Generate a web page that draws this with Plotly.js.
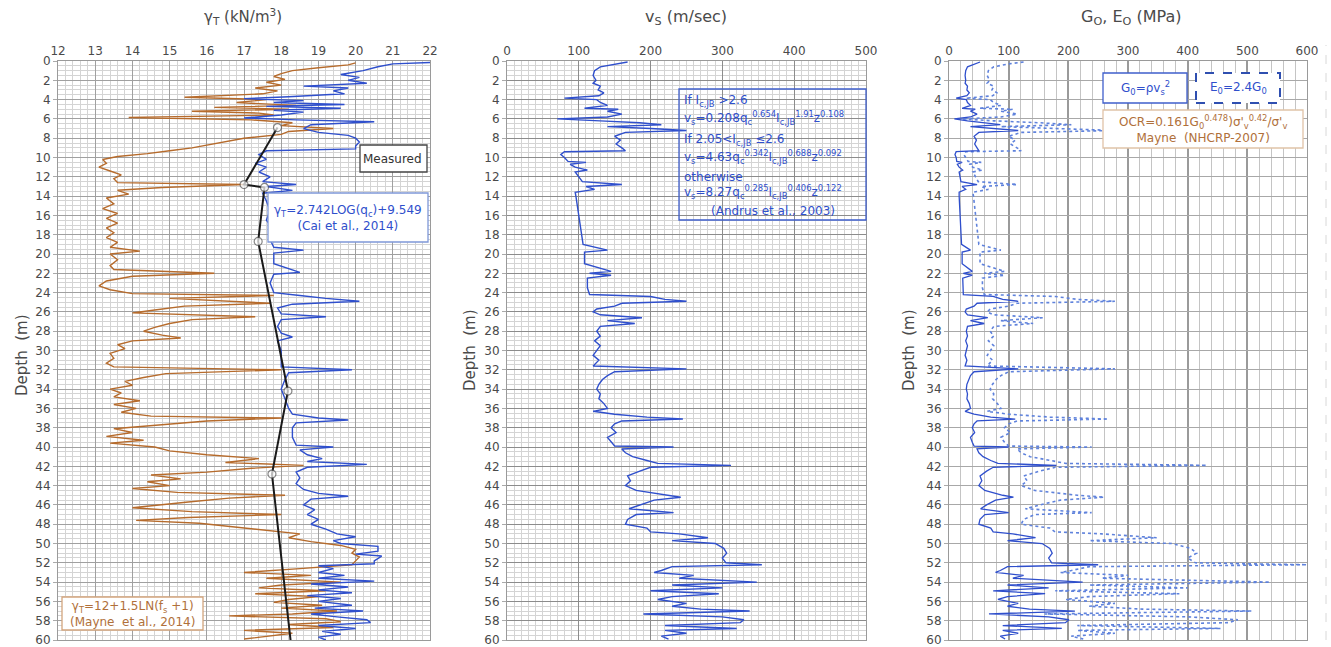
<!DOCTYPE html>
<html>
<head>
<meta charset="utf-8">
<script src="https://cdn.plot.ly/plotly-3.0.1.min.js"></script>
<style>html,body{margin:0;padding:0;background:#fff}#chart{width:1331px;height:647px}</style>
</head>
<body>
<div id="chart"></div>
<script>
// ---------- Panel 1: unit weight ----------
const depthM = [0.2,0.4,0.7,1.0,1.3,1.6,1.9,2.2,2.5,2.8,3.1,3.4,3.75,4.0,4.3,4.6,4.8,5.0,5.2,5.4,5.6,5.85,6.1,6.4,6.7,7.0,7.3,7.6,8.0,8.3,8.6,9.0,9.3,9.6,9.9,10.2,10.6,11.0,11.4,11.8,12.2,12.6,12.8,13.1,13.4,13.8,14.2,14.8,15.3,15.8,16.3,16.8,17.3,17.8,18.3,18.8,19.3,19.7,20.0,20.6,21.2,21.6,22.0,22.3,22.8,23.3,23.7,24.1,24.3,24.6,25.1,25.4,25.8,26.1,26.5,26.8,27.2,27.6,28.0,28.4,28.7,29.0,29.4,29.8,30.3,30.8,31.3,31.7,32.0,32.4,32.8,33.2,33.6,34.0,34.4,34.8,35.2,35.6,36.0,36.4,36.8,37.0,37.3,37.7,38.1,38.5,38.9,39.3,39.6,40.0,40.4,40.8,41.2,41.6,41.9,42.2,42.6,42.9,43.3,43.6,44.0,44.3,44.7,45.0,45.3,45.7,46.0,46.3,46.7,47.0,47.3,47.6,47.9,48.3,48.6,49.0,49.4,49.8,50.2,50.6,51.0,51.4,51.8,52.2,52.6,53.0,53.3,53.6,54.0,54.3,54.6,54.9,55.2,55.5,55.8,56.1,56.4,56.7,57.0,57.3,57.5,57.8,58.1,58.4,58.7,59.0,59.3,59.6,59.9];
const gammaMayne = [20.0,19.8,19.0,18.3,18.0,17.8,18.1,17.6,18.0,17.3,17.9,17.5,15.4,17.6,16.8,18.4,16.2,18.2,15.6,17.4,17.8,13.9,17.2,18.3,18.0,19.4,18.2,18.0,17.0,16.6,16.2,15.6,15.0,14.4,13.6,13.2,13.3,13.1,13.4,13.7,13.5,13.6,17.0,14.8,13.6,13.9,13.3,13.5,13.2,13.6,13.3,13.6,13.3,13.5,13.3,13.6,13.4,14.2,13.4,13.6,13.4,13.5,16.2,14.0,13.3,13.1,13.4,14.0,17.8,15.0,17.7,15.4,14.6,14.0,17.3,15.6,15.0,14.6,14.3,14.8,15.3,14.0,13.6,13.8,13.4,13.5,13.3,13.5,18.0,14.9,14.3,13.8,14.0,13.4,13.7,13.5,14.2,13.5,14.1,13.7,14.5,18.0,16.0,14.8,13.5,14.0,13.3,14.3,13.4,14.6,15.0,16.0,17.4,16.5,18.6,17.2,16.0,14.5,15.3,14.4,15.0,14.0,15.2,18.1,16.6,15.5,14.8,14.0,15.6,18.0,15.5,14.1,15.8,16.8,17.6,18.5,18.2,18.8,19.6,20.0,19.9,20.1,20.0,19.9,18.5,17.0,18.8,17.6,19.6,18.0,17.4,19.2,17.3,19.0,18.2,17.8,19.1,18.0,19.5,18.3,16.6,19.2,19.6,18.2,19.4,17.0,18.3,17.6,17.0];

const depthC = [0.15,0.3,0.6,1.0,1.4,1.7,2.0,2.3,2.6,2.8,3.1,3.4,3.7,3.9,4.1,4.3,4.5,4.7,4.9,5.1,5.3,5.6,5.9,6.1,6.3,6.6,7.0,7.4,7.7,8.0,8.4,8.8,9.1,9.3,9.7,10.2,10.6,11.0,11.5,12.0,12.5,12.8,13.0,13.4,13.7,14.5,15.5,16.5,17.5,18.5,19.3,19.6,19.9,21.0,21.9,22.1,23.0,24.0,24.3,24.6,24.9,25.2,25.6,26.2,26.5,26.8,27.5,28.2,28.6,29.0,30.0,31.0,31.7,32.0,32.3,33.0,34.0,35.0,36.0,36.6,37.0,37.2,37.5,38.0,39.0,39.8,40.0,40.3,40.8,41.2,41.5,41.8,42.1,42.6,43.2,43.8,44.4,44.8,45.1,45.4,46.0,46.5,47.0,47.5,48.0,48.5,49.0,49.3,49.7,50.0,50.3,50.8,51.1,51.3,51.8,52.1,52.3,52.6,53.0,53.3,53.6,53.9,54.2,54.5,54.8,55.1,55.4,55.7,56.0,56.4,56.7,57.0,57.3,57.6,57.9,58.2,58.5,58.8,59.1,59.4,59.7,60.0];
const gammaCai = [22.0,21.0,20.6,20.2,19.6,20.1,19.8,20.3,18.6,19.8,19.4,19.7,18.2,17.0,18.6,17.8,19.7,17.6,19.6,17.8,18.6,18.0,17.0,18.4,20.5,18.8,18.6,19.0,19.8,20.0,20.1,20.0,20.0,17.6,17.4,17.6,17.3,17.6,17.4,17.7,17.5,18.4,17.6,18.3,17.5,17.6,17.7,17.6,17.8,17.7,17.8,18.6,17.8,17.8,18.5,17.8,17.7,17.8,18.5,19.2,20.1,18.3,17.9,18.0,19.2,18.0,17.9,18.0,18.3,17.9,18.0,18.0,18.0,19.9,18.2,18.1,18.0,18.1,18.2,18.3,19.0,19.8,18.4,18.3,18.3,18.4,19.4,18.5,18.7,19.1,18.7,20.3,18.7,18.4,18.5,18.4,18.6,19.0,19.8,18.8,18.6,18.9,18.7,19.0,18.8,19.2,19.5,20.0,19.4,19.6,20.6,20.6,20.0,20.7,20.5,20.5,19.0,19.4,19.0,19.7,19.0,20.5,18.8,19.8,19.0,19.9,18.7,19.6,19.0,19.9,18.9,20.2,18.8,19.5,20.3,20.4,19.0,20.0,19.1,19.6,19.0,19.2];

const depthMeasured = [6.9,12.8,13.1,18.7,34.2,42.8,60.0];
const gammaMeasured = [17.9,17.0,17.55,17.38,18.18,17.75,18.25];
const measuredMarkerSize = [8,8,8,8,8,8,0];

// ---------- Panels 2 and 3: shear wave velocity and moduli ----------
const depthV = [0.1,0.3,0.6,1.0,1.5,2.0,2.3,2.6,3.0,3.3,3.6,3.85,4.0,4.3,4.6,4.9,5.0,5.2,5.5,5.8,6.0,6.2,6.4,6.6,6.8,7.0,7.2,7.4,7.8,8.2,8.6,9.0,9.3,9.4,9.7,10.0,10.4,10.5,10.7,11.0,11.3,11.5,12.0,12.5,12.8,13.0,13.3,13.6,14.0,15.0,16.0,17.0,18.0,19.0,19.6,19.8,21.0,21.8,22.0,22.2,22.5,23.5,24.2,24.4,24.7,24.9,25.1,25.4,25.7,26.0,26.3,26.6,26.9,27.2,27.5,28.0,28.5,29.0,29.5,30.0,30.5,31.0,31.6,31.9,32.2,32.6,33.0,33.5,34.0,34.5,35.0,35.5,36.0,36.3,36.6,36.9,37.1,37.3,37.6,38.0,38.5,39.0,39.5,39.9,40.0,40.2,40.6,41.0,41.4,41.7,41.9,42.1,42.5,43.0,43.5,44.0,44.5,45.0,45.2,45.5,46.0,46.4,46.8,47.0,47.5,48.0,48.4,48.8,49.0,49.4,49.7,50.0,50.5,51.0,51.5,52.0,52.2,52.4,52.8,53.0,53.3,53.6,54.0,54.3,54.6,54.9,55.2,55.5,55.8,56.2,56.5,56.8,57.0,57.3,57.6,57.9,58.2,58.5,58.8,59.0,59.3,59.6,59.9];
const vs = [168,150,130,122,120,124,120,130,127,135,128,80,125,130,140,108,155,140,160,140,70,130,185,215,140,200,250,165,150,158,152,160,165,80,75,80,85,110,88,95,112,95,100,105,160,110,122,95,96,98,100,102,104,106,140,108,108,145,115,145,112,112,115,200,220,250,160,150,125,120,130,188,140,178,130,125,130,122,130,125,120,128,120,250,150,140,133,128,125,130,128,135,140,120,150,195,245,160,150,145,152,140,145,150,232,160,165,175,195,210,312,200,185,168,172,165,180,220,242,205,185,170,232,180,168,165,195,200,240,280,230,290,302,306,300,305,355,230,215,205,260,240,348,230,300,200,295,230,210,250,230,270,338,190,300,330,325,220,320,220,250,215,225];
const G0 = [52,42,31,28,27,28,27,31,30,34,30,12,29,31,36,22,44,36,47,36,9,31,63,86,36,74,116,50,42,46,43,47,50,12,10,12,13,22,14,17,23,17,19,20,47,22,28,17,17,18,19,19,20,21,36,22,22,39,24,39,23,23,24,74,90,116,47,42,29,27,31,65,36,59,31,29,31,28,31,29,27,30,27,116,42,36,33,30,29,31,30,34,36,27,42,70,111,47,42,39,43,36,39,42,100,47,50,57,70,82,180,74,63,52,55,50,60,90,108,78,63,53,100,60,52,50,70,74,107,145,98,156,169,173,167,172,250,98,86,78,125,107,224,98,167,74,161,98,82,116,98,135,211,67,167,201,195,90,189,90,116,86,94];
const E0 = [125,100,75,66,64,68,64,75,72,81,73,28,69,75,87,52,107,87,114,87,22,75,152,205,87,178,278,121,100,111,103,114,121,28,25,28,32,54,34,40,56,40,44,49,114,54,66,40,41,43,44,46,48,50,87,52,52,93,59,93,56,56,59,178,215,278,114,100,69,64,75,157,87,141,75,69,75,66,75,69,64,73,64,278,100,87,79,73,69,75,73,81,87,64,100,169,267,114,100,93,103,87,93,100,239,114,121,136,169,196,432,178,152,125,131,121,144,215,260,187,152,128,239,144,125,121,169,178,256,348,235,373,405,415,400,413,600,235,205,187,300,256,538,235,400,178,386,235,196,278,235,324,507,160,400,484,469,215,455,215,278,205,225];

// depth tick labels
const depthTicks = [0,2,4,6,8,10,12,14,16,18,20,22,24,26,28,30,32,34,36,38,40,42,44,46,48,50,52,54,56,58,60];

// ---------- Styling ----------
const BLUE = '#2f4fcc', BROWN = '#b66b2c', DASHBLUE = '#5f82dc';
const TXT = '#4a4a4a';
const FONT = 'DejaVu Sans, Verdana, sans-serif';

const traces = [
  {x: gammaMayne, y: depthM, xaxis:'x', yaxis:'y', mode:'lines', line:{color:BROWN, width:1.4}, hoverinfo:'skip'},
  {x: gammaCai, y: depthC, xaxis:'x', yaxis:'y', mode:'lines', line:{color:BLUE, width:1.4}, hoverinfo:'skip'},
  {x: gammaMeasured, y: depthMeasured, xaxis:'x', yaxis:'y', mode:'lines+markers',
   line:{color:'#1a1a1a', width:2}, marker:{size:measuredMarkerSize, color:'#ffffff', line:{color:'#555', width:1.2}}, hoverinfo:'skip'},
  {x: vs, y: depthV, xaxis:'x2', yaxis:'y2', mode:'lines', line:{color:BLUE, width:1.4}, hoverinfo:'skip'},
  {x: E0, y: depthV, xaxis:'x3', yaxis:'y3', mode:'lines', line:{color:DASHBLUE, width:1.6, dash:'dot'}, hoverinfo:'skip'},
  {x: G0, y: depthV, xaxis:'x3', yaxis:'y3', mode:'lines', line:{color:BLUE, width:1.3}, hoverinfo:'skip'}
];

const yDom = [0.0108, 0.9057];
function xax(dom, range, dtick, minor, anchor, majorColor, minorColor){
  return {domain:dom, range:range, dtick:dtick, tick0:0, side:'top', anchor:anchor,
    showgrid:true, gridcolor:majorColor, gridwidth:1, zeroline:false,
    showline:true, mirror:true, linecolor:'#9a9a9a', ticks:'',
    tickfont:{family:FONT, size:12, color:TXT},
    minor:{dtick:minor, showgrid:true, gridcolor:minorColor, gridwidth:1}};
}
function yax(anchor, minor, majorColor, minorColor){
  const a = {domain:yDom, range:[60,0], tickmode:'array', tickvals:depthTicks, anchor:anchor,
    showgrid:true, gridcolor:majorColor, gridwidth:1, zeroline:false, ticklabeloverflow:'allow',
    showline:true, mirror:true, linecolor:'#9a9a9a', ticks:'outside', ticklen:4, tickcolor:'#aaa',
    tickfont:{family:FONT, size:12, color:TXT}};
  if (minor) a.minor = {dtick:minor, tick0:0, showgrid:true, gridcolor:minorColor, gridwidth:1};
  return a;
}

function P(px){return px/1331;}
function Q(py){return 1-py/647;}

function box(x0,y0,x1,y1,color,dash,fill){
  return {type:'rect', xref:'paper', yref:'paper', x0:P(x0), x1:P(x1), y0:Q(y1), y1:Q(y0),
    line:{color:color, width:dash?2:1.3, dash:dash||'solid'}, fillcolor:fill||'rgba(0,0,0,0)', layer:'above'};
}
function ann(text, px, py, size, color, extra){
  return Object.assign({text:text, xref:'paper', yref:'paper', x:P(px), y:Q(py), showarrow:false,
    font:{family:FONT, size:size, color:color}, xanchor:'center', yanchor:'middle'}, extra||{});
}

const shapes = [
  box(360,145,427,172,'#444',null,'#ffffff'),
  box(268,193,428,242,'#7f98d8',null,'#ffffff'),
  box(62,597,203,630,'#d3a57d',null,'#ffffff'),
  box(679,89,866,220,'#3f5fcc',null,null),
  box(1103,73,1187,103,'#3f5fcc',null,'#ffffff'),
  box(1196,73,1280,103,'#2f4fb0','dash','#ffffff'),
  box(1103,110,1303,148,'#e0c3a8',null,'#ffffff'),
  {type:'line', xref:'paper', yref:'paper', x0:P(1326), x1:P(1326), y0:Q(640), y1:Q(45), line:{color:'#d8d8d8', width:1, dash:'dash'}}
];

const AB = '#2f4fcc', AR = '#b0703a';
const annotations = [
  ann('γ<sub>T</sub> (kN/m<sup>3</sup>)', 243, 16, 15, TXT),
  ann('v<sub>S</sub> (m/sec)', 686, 17, 16, TXT),
  ann('G<sub>O</sub>, E<sub>O</sub> (MPa)', 1131, 17, 16, TXT),
  ann('Depth  (m)', 22, 355, 15, TXT, {textangle:-90}),
  ann('Depth  (m)', 470, 350, 15, TXT, {textangle:-90}),
  ann('Depth  (m)', 909, 350, 15, TXT, {textangle:-90}),
  ann('Measured', 393, 159, 12, '#333'),
  ann('γ<sub>T</sub>=2.742LOG(q<sub>c</sub>)+9.549<br>(Cai et al., 2014)', 348, 218, 12, AB),
  ann('γ<sub>T</sub>=12+1.5LN(f<sub>s</sub> +1)<br>(Mayne  et al., 2014)', 132, 614, 12, AR),
  ann('If I<sub>c,JB</sub> >2.6', 682, 101, 12, AB, {xanchor:'left'}),
  ann('v<sub>s</sub>=0.208q<sub>c</sub><sup>0.654</sup>I<sub>c,JB</sub><sup>1.91</sup>z<sup>0.108</sup>', 682, 118, 12, AB, {xanchor:'left'}),
  ann('If 2.05&lt;I<sub>c,JB</sub> ≤2.6', 682, 140, 12, AB, {xanchor:'left'}),
  ann('v<sub>s</sub>=4.63q<sub>c</sub><sup>0.342</sup>I<sub>c,JB</sub><sup>0.688</sup>z<sup>0.092</sup>', 682, 157, 12, AB, {xanchor:'left'}),
  ann('otherwise', 682, 177, 12, AB, {xanchor:'left'}),
  ann('v<sub>s</sub>=8.27q<sub>c</sub><sup>0.285</sup>I<sub>c,JB</sub><sup>0.406</sup>z<sup>0.122</sup>', 682, 192, 12, AB, {xanchor:'left'}),
  ann('(Andrus et al., 2003)', 773, 211, 12, AB),
  ann('G<sub>0</sub>=ρv<sub>s</sub><sup>2</sup>', 1145, 88, 12, AB),
  ann('E<sub>0</sub>=2.4G<sub>0</sub>', 1238, 88, 12, AB),
  ann('OCR=0.161G<sub>0</sub><sup>0.478</sup>)σ\'<sub>v</sub><sup>0.42</sup>/σ\'<sub>v</sub><br>Mayne  (NHCRP-2007)', 1203, 129, 12, AR)
];

const layout = {
  width:1331, height:647, margin:{l:0, r:0, t:0, b:0},
  paper_bgcolor:'#ffffff', plot_bgcolor:'#ffffff', showlegend:false,
  font:{family:FONT, color:TXT},
  xaxis: xax([0.0436,0.3231],[12,22],1,0.2,'y','#a0a0a0','#d4d4d4'),
  yaxis: yax('x',0.5,'#a0a0a0','#d4d4d4'),
  xaxis2: xax([0.3809,0.6506],[0,500],100,10,'y2','#8c8c8c','#d4d4d4'),
  yaxis2: yax('x2',0.5,'#8c8c8c','#d4d4d4'),
  xaxis3: xax([0.7130,0.9820],[0,600],100,20,'y3','#9a9a9a','#c4c4c4'),
  yaxis3: yax('x3',null,'#a8a8a8',null),
  shapes:shapes, annotations:annotations
};
layout.xaxis3.gridwidth = 2;

Plotly.newPlot('chart', traces, layout, {staticPlot:true, displayModeBar:false});
</script>
</body>
</html>
